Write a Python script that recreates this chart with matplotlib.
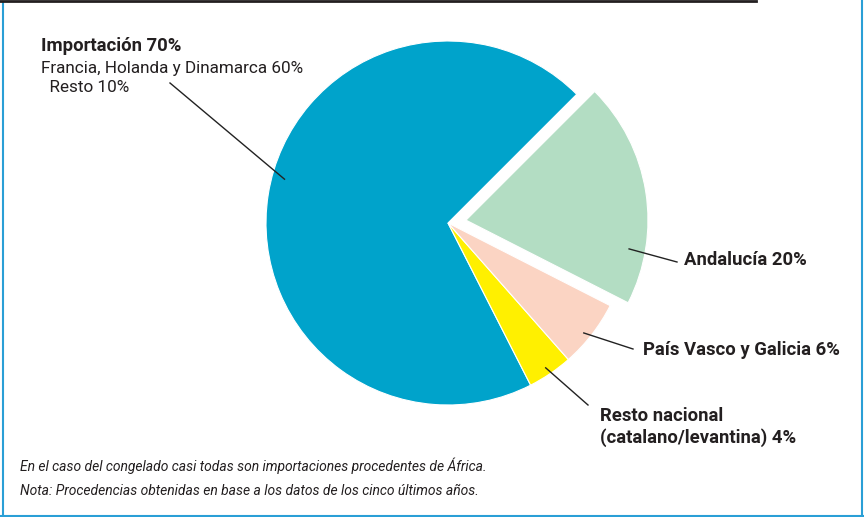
import numpy as np
import matplotlib
matplotlib.use('Agg')
import matplotlib.pyplot as plt
from matplotlib.lines import Line2D

plt.rcParams['font.family'] = ['Roboto', 'DejaVu Sans']

# datos
sectores = ['Importación', 'Resto nacional (catalano/levantina)', 'País Vasco y Galicia', 'Andalucía']
valores = [70, 4, 6, 20]
colores = ['#00a3cb', '#fff000', '#fbd4c3', '#b3ddc3']
separar = [0, 0, 0, 0.1]

etiquetas = ['Importación 70%', 'Resto nacional\n(catalano/levantina) 4%',
             'País Vasco y Galicia 6%', 'Andalucía 20%']
sub_importacion = ['Francia, Holanda y Dinamarca 60%', '  Resto 10%']
notas = ['En el caso del congelado casi todas son importaciones procedentes de África.',
         'Nota: Procedencias obtenidas en base a los datos de los cinco últimos años.']

W, H = 864, 517
fig = plt.figure(figsize=(W / 100, H / 100), dpi=100)
ax = fig.add_axes([0, 0, 1, 1])

cx, cy, R = 448, H - 223, 182
wedges, _ = ax.pie(valores, colors=colores, explode=[s * R for s in separar],
                   startangle=45, counterclock=True, radius=R, center=(cx, cy),
                   wedgeprops=dict(edgecolor='white', linewidth=0.8), frame=True)
ax.set_xlim(0, W)
ax.set_ylim(0, H)
ax.axis('off')

# líneas de referencia: (ángulo de inicio, fracción del radio, fin en px)
guias = [
    (165, 0.93, (170, 83)),
    (-56, 0.96, (588, 405)),
    (-39, 0.96, (633, 349)),
    (-10, 0.91, (677, 262)),
]
for w, (ang, fr, fin) in zip(wedges, guias):
    ox, oy = w.center
    a = np.deg2rad(ang)
    x0, y0 = ox + fr * R * np.cos(a), oy + fr * R * np.sin(a)
    ax.plot([x0, fin[0]], [y0, H - fin[1]], color='#222222', lw=1.0)

tinta = '#231f20'
bold = dict(fontsize=13.3, fontweight='bold', color=tinta, va='center', ha='left')
ax.text(41, H - 46, etiquetas[0], **bold)
ax.text(41, H - 68, sub_importacion[0], fontsize=12.3, color=tinta, va='center')
ax.text(41, H - 88, sub_importacion[1], fontsize=12.3, color=tinta, va='center')
ax.text(684, H - 260, etiquetas[3], **bold)
ax.text(643, H - 350, etiquetas[2], **bold)
ax.text(600, H - 427, etiquetas[1], linespacing=1.22, **bold)

ax.text(20, H - 466, notas[0], fontsize=10, style='italic', color=tinta, va='center')
ax.text(20, H - 491, notas[1], fontsize=10, style='italic', color=tinta, va='center')

# marco
azul = '#2a9fd6'
fig.add_artist(Line2D([2.5 / W, 2.5 / W], [0, 1 - 3 / H], color=azul, lw=1.5))
fig.add_artist(Line2D([862 / W, 862 / W], [0, 1], color=azul, lw=1.5))
fig.add_artist(Line2D([0, 1], [1.5 / H, 1.5 / H], color=azul, lw=1.5))
fig.add_artist(Line2D([0, 756 / W], [1 - 1.2 / H, 1 - 1.2 / H], color=tinta, lw=2))

fig.savefig('out.png', dpi=100, facecolor='white')
